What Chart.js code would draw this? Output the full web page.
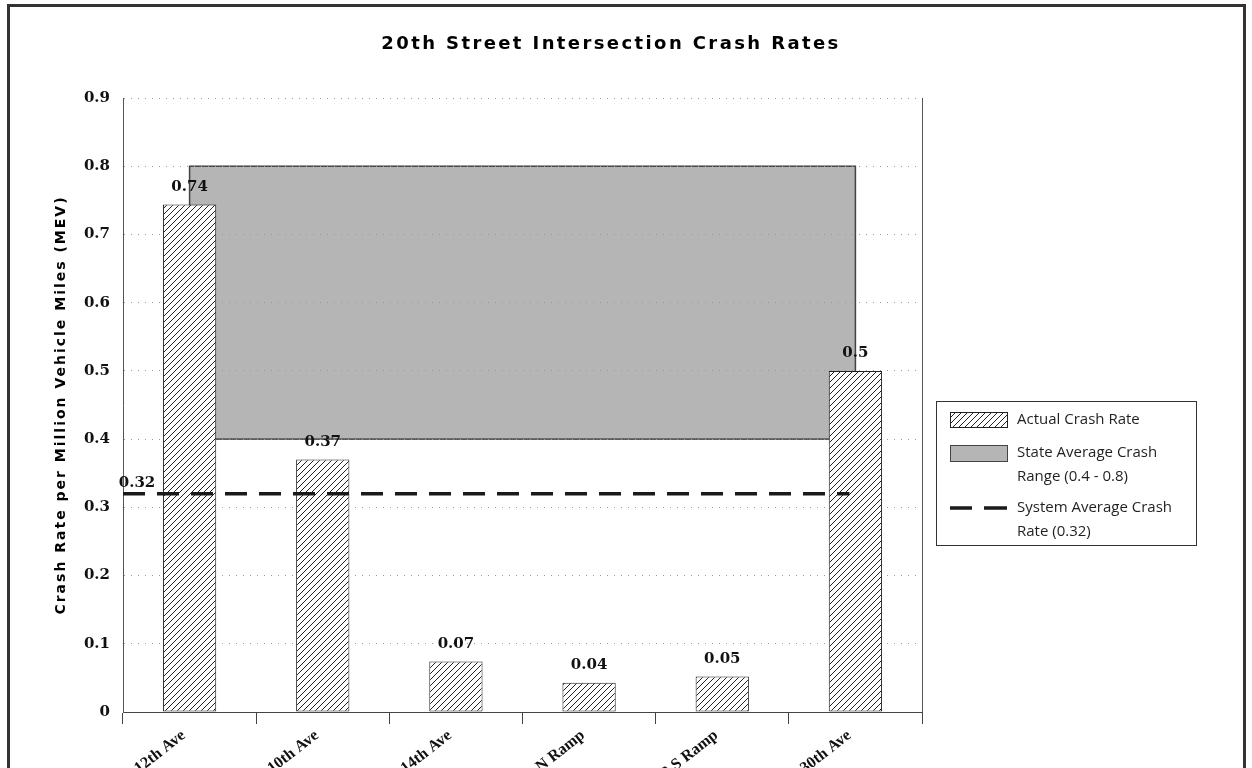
<!DOCTYPE html>
<html>
<head>
<meta charset="utf-8">
<title>20th Street Intersection Crash Rates</title>
<script src="https://cdn.jsdelivr.net/npm/chart.js@4.4.0/dist/chart.umd.min.js"></script>
<style>
    html, body { margin: 0; padding: 0; background: #fff; overflow: hidden; }
    #wrap { width: 1252px; height: 768px; overflow: hidden; }
</style>
</head>
<body>
<div id="wrap"><canvas id="crashChart" width="1252" height="880"></canvas></div>
<script>
// Dados do gráfico
const categories = ['12th Ave', '10th Ave', '14th Ave', 'I-29 N Ramp', 'I-29 S Ramp', '30th Ave'];
const crashRates = [0.744, 0.37, 0.074, 0.043, 0.052, 0.5];
const stateRange = [0.4, 0.8];
const systemAverage = 0.32;
const yTickLabels = ['0', '0.1', '0.2', '0.3', '0.4', '0.5', '0.6', '0.7', '0.8', '0.9'];

const chartTitle = '20th Street Intersection Crash Rates';
const yAxisTitle = 'Crash Rate per Million Vehicle Miles (MEV)';
const legendItems = [
    { type: 'hatch', lines: ['Actual Crash Rate'] },
    { type: 'range', lines: ['State Average Crash', 'Range (0.4 - 0.8)'] },
    { type: 'dash', lines: ['System Average Crash', 'Rate (0.32)'] }
];

const serifBold = 'bold 15px "DejaVu Serif"';
const dashPattern = [22, 12];

// Padrão hachurado das barras
function createHatch(ctx) {
    const c = document.createElement('canvas');
    c.width = 6;
    c.height = 6;
    const p = c.getContext('2d');
    p.fillStyle = '#fff';
    p.fillRect(0, 0, 6, 6);
    p.strokeStyle = '#222';
    p.lineWidth = 1;
    p.beginPath();
    p.moveTo(0, 6); p.lineTo(6, 0);
    p.moveTo(-1, 1); p.lineTo(1, -1);
    p.moveTo(5, 7); p.lineTo(7, 5);
    p.stroke();
    return ctx.createPattern(c, 'repeat');
}

const canvas = document.getElementById('crashChart');
const hatch = createHatch(canvas.getContext('2d'));

// Elementos extras: moldura, faixa estadual, linha média, rótulos, legenda
const decorPlugin = {
    id: 'crashDecor',
    beforeDraw(chart) {
        const ctx = chart.ctx;
        const x = chart.scales.x, y = chart.scales.y;
        ctx.save();
        // moldura externa
        ctx.strokeStyle = '#333';
        ctx.lineWidth = 3;
        ctx.strokeRect(8.5, 5.5, 1236, 1000);
        // faixa da média estadual
        const x1 = x.getPixelForValue(0), x2 = x.getPixelForValue(categories.length - 1);
        const yTop = y.getPixelForValue(stateRange[1]), yBot = y.getPixelForValue(stateRange[0]);
        ctx.fillStyle = '#b4b5b4';
        ctx.fillRect(x1, yTop, x2 - x1, yBot - yTop);
        ctx.strokeStyle = '#444';
        ctx.lineWidth = 1.5;
        ctx.strokeRect(x1, yTop, x2 - x1, yBot - yTop);
        ctx.restore();
    },
    afterDatasetsDraw(chart) {
        const ctx = chart.ctx;
        const area = chart.chartArea;
        const x = chart.scales.x, y = chart.scales.y;
        ctx.save();
        // borda direita da área do gráfico
        ctx.strokeStyle = '#555';
        ctx.lineWidth = 1;
        ctx.beginPath();
        ctx.moveTo(area.right + 0.5, area.top);
        ctx.lineTo(area.right + 0.5, area.bottom);
        ctx.stroke();
        // linha da média do sistema
        const ya = y.getPixelForValue(systemAverage);
        ctx.strokeStyle = '#1a1a1a';
        ctx.lineWidth = 3.5;
        ctx.setLineDash(dashPattern);
        ctx.beginPath();
        ctx.moveTo(area.left, ya);
        ctx.lineTo(x.getPixelForValue(categories.length - 1) - 6, ya);
        ctx.stroke();
        ctx.setLineDash([]);
        // rótulos de valores
        ctx.fillStyle = '#111';
        ctx.font = serifBold;
        ctx.textAlign = 'center';
        ctx.textBaseline = 'bottom';
        ctx.fillText(String(systemAverage), area.left + 14, ya - 3);
        const meta = chart.getDatasetMeta(0);
        meta.data.forEach((bar, i) => {
            ctx.fillText(String(Number(crashRates[i].toFixed(2))), bar.x, bar.y - 10);
        });
        ctx.restore();
    },
    afterDraw(chart) {
        const ctx = chart.ctx;
        const area = chart.chartArea;
        ctx.save();
        // título
        ctx.fillStyle = '#000';
        ctx.font = 'bold 18px "DejaVu Sans"';
        ctx.letterSpacing = '2.4px';
        ctx.textAlign = 'center';
        ctx.textBaseline = 'middle';
        ctx.fillText(chartTitle, 611, 44);
        // título do eixo Y
        ctx.font = 'bold 14px "DejaVu Sans"';
        ctx.letterSpacing = '2px';
        ctx.translate(61, (area.top + area.bottom) / 2);
        ctx.rotate(-Math.PI / 2);
        ctx.fillText(yAxisTitle, 0, 0);
        ctx.restore();

        // legenda
        ctx.save();
        const lx = 936, ly = 401, lw = 260, lh = 144;
        ctx.fillStyle = '#fff';
        ctx.fillRect(lx, ly, lw, lh);
        ctx.strokeStyle = '#333';
        ctx.lineWidth = 1;
        ctx.strokeRect(lx + 0.5, ly + 0.5, lw, lh);
        ctx.font = '15px "Open Sans"';
        ctx.textAlign = 'left';
        ctx.textBaseline = 'middle';
        const rows = [420, 453, 508];
        legendItems.forEach((item, i) => {
            const cy = rows[i];
            if (item.type === 'hatch') {
                ctx.fillStyle = hatch;
                ctx.fillRect(950, cy - 8, 57, 15);
                ctx.strokeStyle = '#222';
                ctx.strokeRect(950.5, cy - 7.5, 57, 15);
            } else if (item.type === 'range') {
                ctx.fillStyle = '#b4b5b4';
                ctx.fillRect(950, cy - 8, 57, 16);
                ctx.strokeStyle = '#444';
                ctx.strokeRect(950.5, cy - 7.5, 57, 16);
            } else {
                ctx.strokeStyle = '#1a1a1a';
                ctx.lineWidth = 3.5;
                ctx.beginPath();
                ctx.moveTo(950, cy); ctx.lineTo(972, cy);
                ctx.moveTo(984, cy); ctx.lineTo(1007, cy);
                ctx.stroke();
                ctx.lineWidth = 1;
            }
            ctx.fillStyle = '#231f20';
            item.lines.forEach((t, j) => ctx.fillText(t, 1017, cy + j * 24));
        });
        ctx.restore();
    }
};

new Chart(canvas, {
    type: 'bar',
    data: {
        labels: categories,
        datasets: [{
            label: 'Actual Crash Rate',
            data: crashRates,
            backgroundColor: hatch,
            borderColor: '#222',
            borderWidth: 1,
            borderSkipped: false,
            barPercentage: 0.4,
            categoryPercentage: 1
        }]
    },
    options: {
        responsive: false,
        animation: false,
        devicePixelRatio: 1,
        layout: { padding: { left: 0, top: 98, right: 330, bottom: 0 } },
        plugins: {
            legend: { display: false },
            title: { display: false },
            tooltip: { enabled: false }
        },
        scales: {
            x: {
                afterFit(scale) { scale.height = 168; },
                grid: {
                    offset: true,
                    drawOnChartArea: false,
                    drawTicks: true,
                    tickLength: 12,
                    color: '#444'
                },
                border: { color: '#444', width: 1 },
                ticks: {
                    color: '#111',
                    font: { family: '"Liberation Serif"', size: 16, weight: 'bold' },
                    minRotation: 38,
                    maxRotation: 38,
                    labelOffset: -6,
                    padding: 2
                }
            },
            y: {
                min: 0,
                max: 0.9,
                afterFit(scale) { scale.width = 123; },
                grid: {
                    drawTicks: false,
                    color: ctx => ctx.index === 0 ? 'rgba(0,0,0,0)' : '#999'
                },
                border: { display: true, color: '#555', width: 1, dash: [1, 6] },
                ticks: {
                    stepSize: 0.1,
                    padding: 13,
                    color: '#111',
                    font: { family: '"DejaVu Serif"', size: 15, weight: 'bold' },
                    callback: (v, i) => yTickLabels[i]
                }
            }
        }
    },
    plugins: [decorPlugin]
});
</script>
</body>
</html>
